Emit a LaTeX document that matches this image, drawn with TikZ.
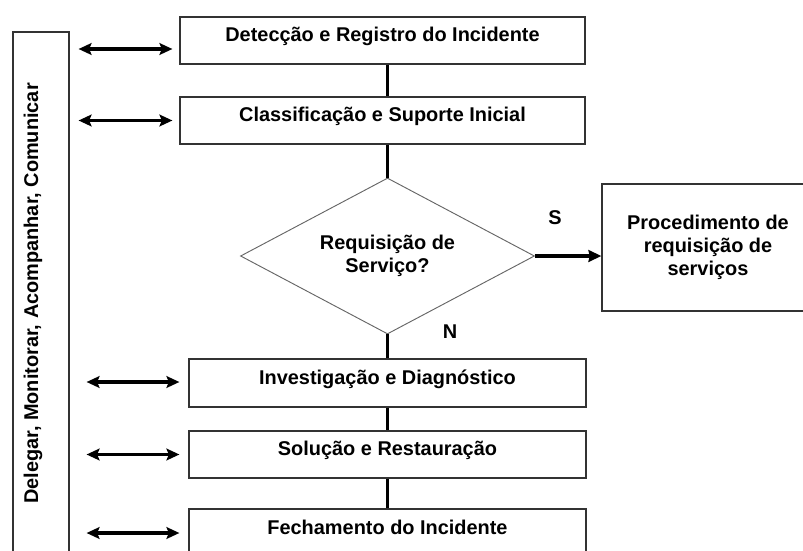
\documentclass[tikz,border=0pt]{standalone}
\usepackage{fontspec}
\setmainfont{Liberation Sans}
\usetikzlibrary{shapes.geometric, calc, arrows.meta}
\tikzset{every text node part/.style={align=center}}
\tikzset{txt/.style = {font=\fontsize{17}{19.6}\selectfont\bfseries}}
\tikzset{stage/.style = {txt, draw=black!80, line width=1pt, fill=white,
						 minimum height=1.41cm, inner sep=0pt,
						 text height=2.8mm, text depth=2.2mm}
		}
\tikzset{link/.style = {line width=3.4pt}}
\tikzset{flow/.style = {line width=3.4pt, -{Stealth[length=11pt, width=10pt, inset=1pt]}}}
\tikzset{both/.style = {line width=3pt,
						 {Stealth[length=11pt, width=10pt, inset=2pt]}-{Stealth[length=11pt, width=10pt, inset=2pt]}}
		}

\begin{document}
\begin{tikzpicture}[x=0.03cm, y=-0.03cm, line cap=butt, line join=miter]
		% Frame
		\useasboundingbox (0,0) rectangle (803,550);
		\clip (0,0) rectangle (803,550);
		
		% Control column
		\node[draw=black!80, line width=1pt, minimum width=1.68cm, minimum height=15.84cm, inner sep=0pt] (ctl) at (41,296) {};
		\node[txt, rotate=90, inner sep=0pt] (ctltext) at (33,293.5) {Delegar, Monitorar, Acompanhar, Comunicar};
		
		% Stages
		\node[stage, minimum width=12.15cm] (det) at (382.5,40.5) {Detecção e Registro do Incidente};
		\node[stage, minimum width=12.15cm] (cls) at (382.5,120.5) {Classificação e Suporte Inicial};
		\node[txt, diamond, draw=black!60, line width=0.8pt, aspect=1.88, inner sep=0pt,
			  minimum width=8.82cm, minimum height=4.68cm] (req) at (387.5,256) {Requisição de\\Serviço?};
		\node[txt, draw=black!80, line width=1pt, minimum width=6.36cm, minimum height=3.81cm] (proc) at (708,247.5) {Procedimento de\\requisição de\\serviços};
		\node[stage, minimum width=11.91cm, minimum height=1.44cm] (inv) at (387.5,383) {Investigação e Diagnóstico};
		\node[stage, minimum width=11.91cm] (sol) at (387.5,454.5) {Solução e Restauração};
		\node[stage, minimum width=11.91cm, minimum height=1.44cm] (fec) at (387.5,533) {Fechamento do Incidente};
		
		% Answers
		\node[txt] (yes) at (555,217.5) {S};
		\node[txt] (no) at (450,331.5) {N};
		
		% Main line
		\draw[link] (det.south -| req.north) -- (cls.north -| req.north);
		\draw[link] (cls.south -| req.north) -- (req.north);
		\draw[link] (req.south) -- (inv.north);
		\draw[link] (inv.south) -- (sol.north);
		\draw[link] (sol.south) -- (fec.north);
		\draw[flow] (req.east) -- (req.east -| proc.west);
		
		% Double arrows
		\draw[both] ($(ctl.east |- det.west)+(9,8.5)$) -- ($(det.west)+(-7,8.5)$);
		\draw[both] ($(ctl.east |- cls.west)+(9,0)$) -- ($(cls.west)+(-7,0)$);
		\draw[both] ($(ctl.east |- inv.west)+(17,-1)$) -- ($(inv.west)+(-9,-1)$);
		\draw[both] ($(ctl.east |- sol.west)+(17,0)$) -- ($(sol.west)+(-9,0)$);
		\draw[both] ($(ctl.east |- fec.west)+(17,0)$) -- ($(fec.west)+(-9,0)$);
	\end{tikzpicture}
\end{document}
